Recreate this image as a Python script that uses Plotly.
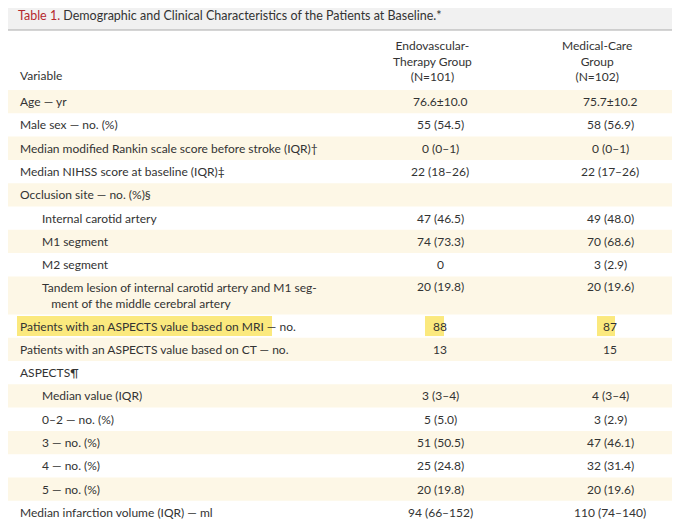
import plotly.graph_objects as go

variables = ["Age — yr", "Male sex — no. (%)",
    "Median modified Rankin scale score before stroke (IQR)†",
    "Median NIHSS score at baseline (IQR)‡", "Occlusion site — no. (%)§",
    "Internal carotid artery", "M1 segment", "M2 segment",
    "Tandem lesion of internal carotid artery and M1 seg-<br>   ment of the middle cerebral artery",
    "Patients with an ASPECTS value based on MRI — no.",
    "Patients with an ASPECTS value based on CT — no.", "ASPECTS¶",
    "Median value (IQR)", "0–2 — no. (%)", "3 — no. (%)", "4 — no. (%)", "5 — no. (%)",
    "Median infarction volume (IQR) — ml"]
indent = [0,0,0,0,0,1,1,1,1,0,0,0,1,1,1,1,1,0]
endo = ["76.6±10.0","55 (54.5)","0 (0–1)","22 (18–26)","","47 (46.5)","74 (73.3)","0",
        "20 (19.8)","88","13","","3 (3–4)","5 (5.0)","51 (50.5)","25 (24.8)","20 (19.8)","94 (66–152)"]
medical = ["75.7±10.2","58 (56.9)","0 (0–1)","22 (17–26)","","49 (48.0)","70 (68.6)","3 (2.9)",
        "20 (19.6)","87","15","","4 (3–4)","3 (2.9)","47 (46.1)","32 (31.4)","20 (19.6)","110 (74–140)"]
headers = ["Endovascular-<br>Therapy Group<br>(N=101)", "Medical-Care<br>Group<br>(N=102)"]
highlight_row = 9

W, H = 680, 519
OFF = 8  # page body margin compensation
font = "Lato"
txt = "#333333"
fig = go.Figure()
shapes, ann = [], []
shapes.append(dict(type="rect", x0=7, x1=675, y0=0, y1=30, fillcolor="#f1f1f1",
                   line=dict(color="#aaaaaa", width=1), layer="below"))
ann.append(dict(x=16, y=15, text="<span style='color:#b5282e'>Table 1.</span> Demographic and Clinical Characteristics of the Patients at Baseline.*",
                xanchor="left", yanchor="middle", showarrow=False, font=dict(size=12.5, color=txt, family=font)))
shapes.append(dict(type="line", x0=7, x1=7, y0=30, y1=H + 20, line=dict(color="#999999", width=1.5)))
shapes.append(dict(type="line", x0=675, x1=675, y0=30, y1=H + 20, line=dict(color="#999999", width=1.5)))
ann.append(dict(x=18, y=75, text="Variable", xanchor="left", yanchor="middle", showarrow=False,
                font=dict(size=12, color=txt, family=font)))
for cx, h in zip([432, 597], headers):
    ann.append(dict(x=cx, y=61, text=h, xanchor="center", yanchor="middle", showarrow=False,
                    font=dict(size=12, color=txt, family=font)))
y = 90
for i, v in enumerate(variables):
    h = 38 if "<br>" in v else 23.3
    if i % 2 == 0:
        shapes.append(dict(type="rect", x0=8, x1=674, y0=y, y1=y + h, fillcolor="#fdf7e6",
                           line=dict(width=0), layer="below"))
    cy = y + (10.5 if h > 30 else h / 2)
    xl = 40 if indent[i] else 18
    if i == highlight_row:
        for a, b in [(17, 272), (425, 444), (597, 615)]:
            shapes.append(dict(type="rect", x0=a, x1=b, y0=cy - 10, y1=cy + 10, fillcolor="#fbe97e",
                               line=dict(width=0), layer="below"))
    ann.append(dict(x=xl, y=(y + h / 2) if h > 30 else cy, text=v, xanchor="left", yanchor="middle",
                    showarrow=False, align="left", font=dict(size=12, color=txt, family=font)))
    ann.append(dict(x=440, y=cy, text=endo[i], xanchor="center", yanchor="middle", showarrow=False,
                    font=dict(size=12, color=txt, family=font)))
    ann.append(dict(x=610, y=cy, text=medical[i], xanchor="center", yanchor="middle", showarrow=False,
                    font=dict(size=12, color=txt, family=font)))
    y += h

fig.update_layout(width=W, height=H, margin=dict(l=0, r=0, t=0, b=0),
                  paper_bgcolor="white", plot_bgcolor="white", shapes=shapes, annotations=ann,
                  xaxis=dict(range=[OFF, W + OFF], visible=False, fixedrange=True),
                  yaxis=dict(range=[H + OFF, OFF], visible=False, fixedrange=True), showlegend=False)
fig.write_html("out.html")
